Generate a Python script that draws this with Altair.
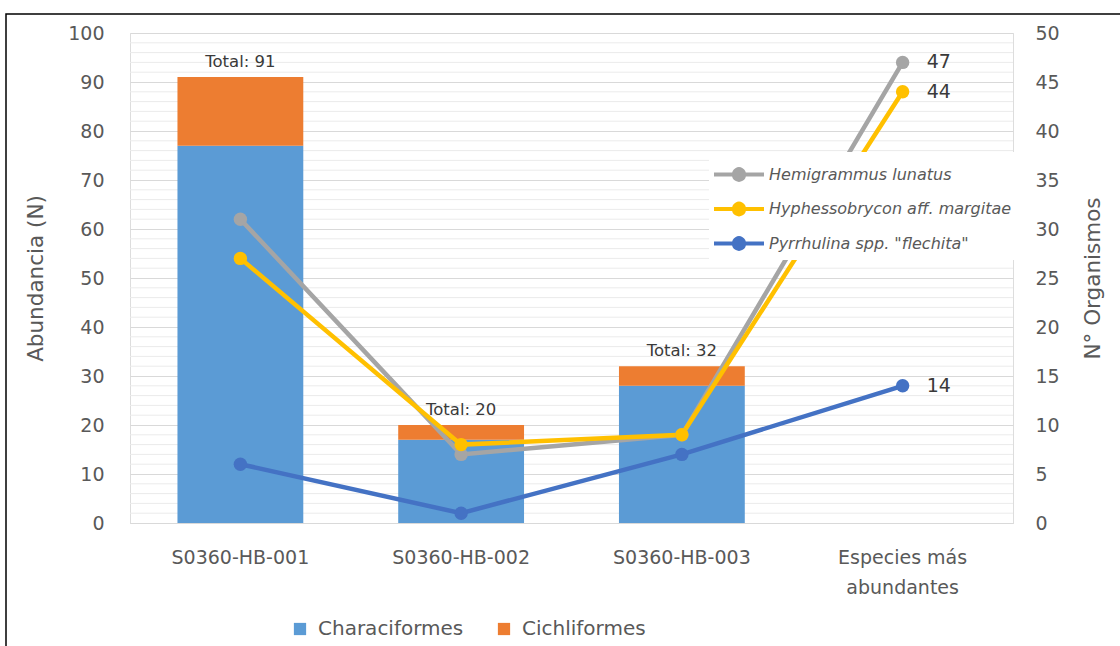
import altair as alt
import pandas as pd

# Sampling stations plus the summary column for the most abundant species
categories = ["S0360-HB-001", "S0360-HB-002", "S0360-HB-003", "Especies más abundantes"]
sites = categories[:3]

# Abundance by order (left axis)
orders = ["Characiformes", "Cichliformes"]
characiformes = [77, 17, 28]
cichliformes = [14, 3, 4]
totals = [91, 20, 32]

# Number of organisms of the most abundant species (right axis)
species = ["Hemigrammus lunatus", "Hyphessobrycon aff. margitae", 'Pyrrhulina spp. "flechita"']
hemigrammus = [31, 7, 9, 47]
hyphessobrycon = [27, 8, 9, 44]
pyrrhulina = [6, 1, 7, 14]

FONT = "DejaVu Sans"
TEXT = "#595959"
DARK = "#3A3A3A"

bars_df = pd.DataFrame(
    [{"sitio": s, "orden": orders[0], "n": c, "k": 0} for s, c in zip(sites, characiformes)]
    + [{"sitio": s, "orden": orders[1], "n": c, "k": 1} for s, c in zip(sites, cichliformes)]
)
totals_df = pd.DataFrame({"sitio": sites, "total": totals,
                          "texto": [f"Total: {t}" for t in totals]})
lines_df = pd.DataFrame(
    [{"sitio": c, "especie": sp, "n": v}
     for sp, vals in zip(species, [hemigrammus, hyphessobrycon, pyrrhulina])
     for c, v in zip(categories, vals)]
)
end_df = lines_df[lines_df["sitio"] == categories[-1]].copy()
minor_df = pd.DataFrame({"v": [v for v in range(0, 101, 2) if v % 10]})

x_enc = alt.X(
    "sitio:N",
    sort=categories,
    scale=alt.Scale(domain=categories, paddingInner=0.43, paddingOuter=0.215),
    axis=alt.Axis(
        title=None,
        labelAngle=0,
        labelFontSize=19,
        labelColor=TEXT,
        labelFont=FONT,
        labelPadding=25,
        labelLineHeight=30,
        labelExpr="datum.value == 'Especies más abundantes' ? ['Especies más', 'abundantes'] : datum.label",
        ticks=False,
        domainColor="#D9D9D9",
        domainWidth=1.2,
    ),
)

left_scale = alt.Scale(domain=[0, 100], nice=False)
right_scale = alt.Scale(domain=[0, 50], nice=False)

left_axis = alt.Axis(
    title="Abundancia (N)",
    values=list(range(0, 101, 10)),
    grid=True,
    gridColor="#D9D9D9",
    gridWidth=1.2,
    domain=False,
    ticks=False,
    labelFontSize=19,
    labelColor=TEXT,
    labelFont=FONT,
    labelPadding=26,
    titleFontSize=21.5,
    titleFont=FONT,
    titleColor=TEXT,
    titleFontWeight="normal",
    titlePadding=20,
)

frame = alt.Chart(pd.DataFrame({"a": [0]})).mark_rect(
    fill="transparent", stroke="#000000", strokeWidth=1.5, clip=False
).encode(
    x=alt.value(-124), x2=alt.value(1100), y=alt.value(-19), y2=alt.value(700)
)

minor_grid = alt.Chart(minor_df).mark_rule(color="#EBEBEB", strokeWidth=1).encode(
    y=alt.Y("v:Q", scale=left_scale, axis=left_axis)
)

bars = alt.Chart(bars_df).mark_bar().encode(
    x=x_enc,
    y=alt.Y("n:Q", scale=left_scale, stack="zero", axis=left_axis),
    color=alt.Color(
        "orden:N",
        scale=alt.Scale(domain=orders, range=["#5B9BD5", "#ED7D31"]),
        legend=alt.Legend(
            title=None,
            orient="none",
            direction="horizontal",
            legendX=160,
            legendY=586,
            symbolType="square",
            symbolSize=150,
            symbolStrokeWidth=0,
            labelFontSize=20,
            labelFont=FONT,
            labelColor=TEXT,
            labelOffset=8,
            columnPadding=30,
            padding=0,
        ),
    ),
    order=alt.Order("k:Q"),
)

total_labels = alt.Chart(totals_df).mark_text(
    dy=-15, baseline="middle", align="center", fontSize=16.5, font=FONT, color=DARK
).encode(
    x=alt.X("sitio:N", sort=categories),
    y=alt.Y("total:Q", scale=left_scale, axis=left_axis),
    text="texto:N",
)

left = alt.layer(frame, minor_grid, bars, total_labels)

# Legend glyph: a short stroke with a filled dot in its middle
legend_symbol = (
    "M-1,0L1.857,0"
    "M0.143,0A0.286,0.286 0 1,0 0.714,0A0.286,0.286 0 1,0 0.143,0"
    "M0.343,0A0.086,0.086 0 1,0 0.514,0A0.086,0.086 0 1,0 0.343,0"
)

right_axis = alt.Axis(
    title="N° Organismos",
    orient="right",
    values=list(range(0, 51, 5)),
    grid=False,
    domain=False,
    ticks=False,
    labelFontSize=19,
    labelColor=TEXT,
    labelFont=FONT,
    labelPadding=22,
    titleFontSize=21.5,
    titleFont=FONT,
    titleColor=TEXT,
    titleFontWeight="normal",
    titleAngle=270,
    titlePadding=45,
)

lines = alt.Chart(lines_df).mark_line(
    strokeWidth=4.5,
    point=alt.OverlayMarkDef(filled=True, size=180, opacity=1),
).encode(
    x=alt.X("sitio:N", sort=categories),
    y=alt.Y("n:Q", scale=right_scale, axis=right_axis),
    color=alt.Color(
        "especie:N",
        sort=species,
        scale=alt.Scale(domain=species, range=["#A5A5A5", "#FFC000", "#4472C4"]),
        legend=alt.Legend(
            title=None,
            orient="none",
            legendX=579,
            legendY=119,
            fillColor="#FFFFFF",
            padding=3,
            symbolType=legend_symbol,
            symbolSize=1225,
            symbolStrokeWidth=4,
            labelOffset=18,
            labelFontSize=16,
            labelFont=FONT,
            labelFontStyle="italic",
            labelColor=TEXT,
            labelLimit=400,
            rowPadding=1.5,
        ),
    ),
)

end_labels = alt.Chart(end_df).mark_text(
    align="left", baseline="middle", dx=24, fontSize=19, font=FONT, color=DARK
).encode(
    x=alt.X("sitio:N", sort=categories),
    y=alt.Y("n:Q", scale=right_scale, axis=right_axis),
    text="n:Q",
)

right = alt.layer(lines, end_labels)

chart = (
    alt.layer(left, right)
    .resolve_scale(y="independent", color="independent")
    .properties(
        width=883,
        height=490,
        autosize=alt.AutoSizeParams(type="none"),
        padding={"left": 130, "top": 33, "right": 107, "bottom": 123},
        background="#FFFFFF",
    )
    .configure_view(stroke=None)
    .configure(font=FONT)
)

chart.save("out.html", embed_options={"renderer": "svg", "actions": False})
